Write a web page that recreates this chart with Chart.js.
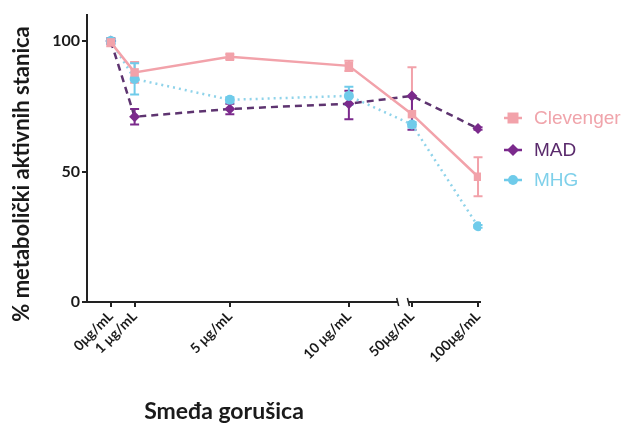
<!DOCTYPE html>
<html>
<head>
<meta charset="utf-8">
<script src="https://cdn.jsdelivr.net/npm/chart.js@4/dist/chart.umd.min.js"></script>
<style>
html,body{margin:0;padding:0;background:#fff;}
#wrap{width:624px;height:425px;position:relative;}
</style>
</head>
<body>
<div id="wrap"><canvas id="c" width="624" height="425"></canvas></div>
<script>
// ---- data ----
const tickLabels = ['0μg/mL', '1 μg/mL', '5 μg/mL', '10 μg/mL', '50μg/mL', '100μg/mL'];
const concentrations = [0, 1, 5, 10, 50, 100];
const seriesNames = ['Clevenger', 'MAD', 'MHG'];
const clevenger = [99.5, 88, 94, 90.5, 72, 48];
const clevengerErrUp = [1.5, 4, 1, 2, 18, 7.5];
const clevengerErrDown = [1.5, 4, 1, 2, 0, 7.5];
const mad = [100, 71, 74, 76, 79, 66.5];
const madErrUp = [1, 3, 2, 5, 0, 0.5];
const madErrDown = [1, 3, 2, 6, 13, 0.5];
const mhg = [100, 85.5, 77.5, 79, 68, 29];
const mhgErrUp = [1, 6, 1, 3.5, 1, 0.5];
const mhgErrDown = [1, 6, 1, 3.5, 1, 0.5];
const yTicks = [0, 50, 100];

// broken x axis: concentration -> axis position
const BREAK_START = 12.05, BREAK_END = 12.5;
function axisPos(c) { return c <= 12 ? c : 12.65 + (c - 50) * 0.0555; }

const colors = {
  Clevenger: '#f2a2aa',
  MAD: '#7b2a8c',
  MHG: '#6fcbea'
};
const lineColors = {
  Clevenger: '#f2a2aa',
  MAD: '#5e3470',
  MHG: '#8fd3ea'
};
const textColors = {
  Clevenger: '#f0a4ab',
  MAD: '#5a2a6c',
  MHG: '#7fd0ea'
};

function pts(vals) { return vals.map((v, i) => ({x: axisPos(concentrations[i]), y: v})); }

const errs = [
  {up: clevengerErrUp, down: clevengerErrDown},
  {up: madErrUp, down: madErrDown},
  {up: mhgErrUp, down: mhgErrDown}
];

const datasets = [
  {label: seriesNames[0], data: pts(clevenger), borderColor: lineColors.Clevenger, backgroundColor: colors.Clevenger,
   pointStyle: 'rect', pointRadius: 6, borderWidth: 2.5, pointBorderWidth: 0, order: 1},
  {label: seriesNames[1], data: pts(mad), borderColor: lineColors.MAD, backgroundColor: colors.MAD,
   pointStyle: 'rectRot', pointRadius: 5.5, borderWidth: 2.5, borderDash: [7, 5], pointBorderWidth: 0, order: 3},
  {label: seriesNames[2], data: pts(mhg), borderColor: lineColors.MHG, backgroundColor: colors.MHG,
   pointStyle: 'circle', pointRadius: 5, borderWidth: 2.5, borderDash: [2, 4], pointBorderWidth: 0, order: 2}
];

const customPlugin = {
  id: 'custom',
  beforeDatasetsDraw(chart) {
    const ctx = chart.ctx, xs = chart.scales.x, ys = chart.scales.y;
    ctx.save();
    chart.data.datasets.forEach((ds, di) => {
      const e = errs[di];
      ctx.strokeStyle = ds.backgroundColor;
      ctx.lineWidth = 2;
      ds.data.forEach((p, i) => {
        const x = xs.getPixelForValue(p.x);
        const yt = ys.getPixelForValue(p.y + e.up[i]);
        const yb = ys.getPixelForValue(p.y - e.down[i]);
        ctx.beginPath();
        ctx.moveTo(x, yt); ctx.lineTo(x, yb);
        if (e.up[i] > 0) { ctx.moveTo(x - 4.5, yt); ctx.lineTo(x + 4.5, yt); }
        if (e.down[i] > 0) { ctx.moveTo(x - 4.5, yb); ctx.lineTo(x + 4.5, yb); }
        ctx.stroke();
      });
    });
    ctx.restore();
  },
  afterDraw(chart) {
    const ctx = chart.ctx, xs = chart.scales.x, area = chart.chartArea;
    ctx.save();
    // broken x axis line
    const yb = area.bottom;
    const b1 = xs.getPixelForValue(BREAK_START), b2 = xs.getPixelForValue(BREAK_END);
    ctx.strokeStyle = '#222';
    ctx.lineWidth = 2;
    ctx.beginPath();
    ctx.moveTo(area.left - 1, yb); ctx.lineTo(b1, yb);
    ctx.moveTo(b2, yb); ctx.lineTo(area.right, yb);
    ctx.stroke();
    ctx.lineWidth = 1.5;
    ctx.beginPath();
    ctx.moveTo(b1 - 1, yb - 4); ctx.lineTo(b1 + 1, yb + 4);
    ctx.moveTo(b2 - 1, yb - 4); ctx.lineTo(b2 + 1, yb + 4);
    ctx.stroke();

    // axis titles
    ctx.fillStyle = '#1a1a1a';
    ctx.font = 'bold 22px Lato';
    ctx.textAlign = 'center';
    ctx.textBaseline = 'middle';
    ctx.save();
    ctx.translate(22, 174);
    ctx.rotate(-Math.PI / 2);
    ctx.fillText('% metabolički aktivnih stanica', 0, 0);
    ctx.restore();
    ctx.font = 'bold 23px Lato';
    ctx.fillText('Smeđa gorušica', 224, 412);

    // legend
    const legY = [118, 150, 180];
    chart.data.datasets.forEach((ds, i) => {
      const y = legY[i];
      const mx = 513;
      ctx.strokeStyle = ds.backgroundColor;
      ctx.lineWidth = 2.5;
      ctx.setLineDash([]);
      ctx.beginPath(); ctx.moveTo(mx - 9, y); ctx.lineTo(mx + 9, y); ctx.stroke();
      ctx.fillStyle = ds.backgroundColor;
      ctx.beginPath();
      if (ds.pointStyle === 'rect') { ctx.rect(mx - 5.5, y - 5.5, 11, 11); }
      else if (ds.pointStyle === 'rectRot') { ctx.moveTo(mx, y - 6); ctx.lineTo(mx + 6, y); ctx.lineTo(mx, y + 6); ctx.lineTo(mx - 6, y); ctx.closePath(); }
      else { ctx.arc(mx, y, 5, 0, Math.PI * 2); }
      ctx.fill();
      ctx.fillStyle = textColors[ds.label];
      ctx.font = '19px "Liberation Sans", Arial';
      ctx.textAlign = 'left';
      ctx.fillText(ds.label, 534, y + 1);
    });
    ctx.restore();
  }
};

new Chart(document.getElementById('c'), {
  type: 'line',
  data: {datasets},
  options: {
    responsive: false,
    animation: false,
    layout: {padding: {left: 0, top: 15, right: 143, bottom: 0}},
    plugins: {legend: {display: false}, tooltip: {enabled: false}},
    scales: {
      x: {
        type: 'linear', min: -1, max: 15.55,
        afterBuildTicks(scale) { scale.ticks = concentrations.map(c => ({value: axisPos(c)})); },
        afterFit(scale) { scale.height = 123; },
        border: {display: false},
        grid: {drawOnChartArea: false, tickLength: 5, color: '#222', lineWidth: 2},
        ticks: {
          autoSkip: false, minRotation: 45, maxRotation: 45, padding: 1,
          color: '#1a1a1a', font: {family: 'Lato', weight: 'bold', size: 14},
          callback: (v, i) => tickLabels[i]
        }
      },
      y: {
        min: 0, max: 110,
        afterBuildTicks(scale) { scale.ticks = yTicks.map(v => ({value: v})); },
        afterFit(scale) { scale.width = 87; },
        border: {display: true, color: '#222', width: 2},
        grid: {drawOnChartArea: false, tickLength: 5, color: '#222', lineWidth: 2},
        ticks: {color: '#1a1a1a', padding: 2, font: {family: 'Lato', weight: 'bold', size: 16}}
      }
    }
  },
  plugins: [customPlugin]
});
</script>
</body>
</html>
